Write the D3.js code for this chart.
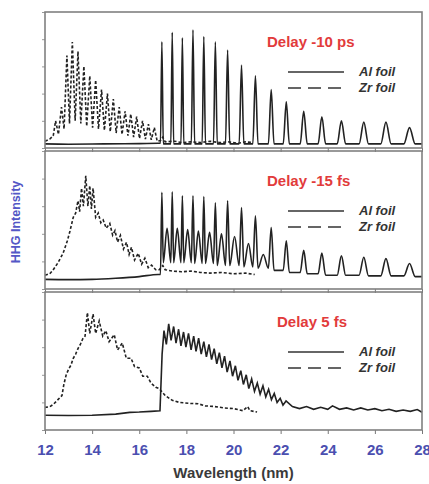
<!DOCTYPE html>
<html>
<head>
<meta charset="utf-8">
<script src="https://cdn.jsdelivr.net/npm/d3@7"></script>
<style>
  body { margin: 0; background: #fff; }
  text { font-family: "Liberation Sans", Arial, sans-serif; font-weight: bold; }
</style>
</head>
<body>
<script>
// ---- datos (longitud de onda en nm, intensidad en u.a. 0-100) ----
const xTicks = [12, 14, 16, 18, 20, 22, 24, 26, 28];
const yTicks = [0, 20, 40, 60, 80, 100];
const delays = ["Delay -10 ps", "Delay -15 fs", "Delay 5 fs"];
const seriesNames = ["Al foil", "Zr foil"];

// armonicos del filtro Al (paneles 1 y 2)
const alPos = [16.96, 17.40, 17.83, 18.28, 18.74, 19.23, 19.75, 20.34, 20.93, 21.6, 22.24, 22.98, 23.75, 24.58, 25.53, 26.47, 27.47];
const alWidth = [0.06, 0.06, 0.06, 0.07, 0.07, 0.08, 0.09, 0.1, 0.11, 0.12, 0.13, 0.15, 0.16, 0.18, 0.2, 0.22, 0.24];
const alTop1 = [78, 85, 81, 87, 82, 78, 72, 61, 53, 43, 34, 27, 23, 20, 19, 19, 15];
const alLow1 = [3, 3, 3, 3, 3, 3, 3, 3, 3, 3, 3, 3, 3, 3, 3, 3, 3];
const alSub1 = [0, 0, 0, 0, 0, 0, 0, 0, 0, 0, 0, 0, 0, 0, 0, 0, 0];
const alPre1 = [[12.0, 3], [13.0, 2.8], [14.5, 3], [16.0, 3.2], [16.8, 3.5]];
const alTop2 = [70, 70.5, 67.5, 67.5, 67, 62.5, 64, 59, 53, 44.5, 35, 28, 26, 24, 23, 22, 18.5];
const alLow2 = [19, 19, 19, 18.5, 18.5, 17, 17, 16, 15, 13.5, 12, 11, 10, 10, 9.5, 9.5, 9];
const alSub2 = [44, 44, 43, 42, 41, 40, 38, 33, 25, 0, 0, 0, 0, 0, 0, 0, 0];
const alPre2 = [[12.0, 7], [13.0, 6.8], [14.0, 7], [15.0, 7.8], [16.0, 9], [16.8, 10.5]];

// Al, panel 3 (picos densos)
const al3 = [[12.0, 10.7], [13.0, 10.5], [14.0, 10.7], [15.0, 11.5], [15.6, 12.8], [16.0, 13], [16.5, 13.5], [16.88, 14],
  [16.97, 55], [17.05, 72], [17.15, 62], [17.25, 77], [17.35, 65], [17.46, 75], [17.56, 63], [17.67, 73], [17.77, 61],
  [17.88, 71], [17.98, 60], [18.09, 70], [18.2, 58], [18.31, 68], [18.41, 57], [18.52, 66.5], [18.63, 55], [18.74, 64],
  [18.85, 53], [18.96, 62], [19.07, 51], [19.18, 59], [19.29, 48], [19.40, 56], [19.51, 45], [19.62, 53.5], [19.73, 42],
  [19.85, 50], [19.96, 39], [20.08, 46.5], [20.19, 36], [20.31, 43], [20.42, 33], [20.54, 40], [20.65, 30], [20.77, 37],
  [20.89, 28], [21.01, 34], [21.13, 26], [21.25, 32], [21.37, 24], [21.49, 29.5], [21.61, 22], [21.73, 26.5], [21.85, 20],
  [21.98, 23], [22.1, 18], [22.23, 21], [22.5, 17], [22.8, 15.5], [23.1, 17], [23.4, 15], [23.7, 16.5], [24.0, 15],
  [24.2, 17.5], [24.5, 15], [24.8, 16], [25.1, 14.5], [25.4, 16], [25.7, 14.5], [26.0, 15.5], [26.3, 14], [26.6, 15],
  [26.9, 13.5], [27.2, 14.5], [27.5, 13.5], [27.8, 14.8], [28.0, 12.9]];

// Zr
const zr1 = [[12.0, 5], [12.2, 6.5], [12.35, 9], [12.45, 20], [12.57, 10], [12.70, 30], [12.81, 14], [12.93, 68],
  [13.04, 18], [13.16, 78], [13.28, 20], [13.40, 71], [13.52, 18], [13.65, 60], [13.77, 16], [13.90, 53], [14.02, 15],
  [14.15, 50], [14.27, 14], [14.40, 43], [14.52, 13], [14.65, 40], [14.77, 12], [14.90, 36], [15.02, 11], [15.15, 30],
  [15.27, 10], [15.40, 27], [15.52, 9], [15.64, 25], [15.76, 8], [15.89, 23], [16.01, 7], [16.14, 20], [16.26, 6.5],
  [16.39, 17.5], [16.51, 6], [16.64, 15], [16.76, 5], [16.9, 5.5], [17.0, 8], [17.1, 4.5], [17.5, 5], [17.8, 4],
  [18.2, 4.5], [18.6, 4], [19.0, 5], [19.4, 4], [19.8, 4.5], [20.2, 3.5], [20.5, 4.5], [20.8, 4]];
const zr2 = [[12.0, 10], [12.2, 11], [12.34, 13.7], [12.55, 19], [12.77, 26], [12.95, 35], [13.06, 42], [13.2, 52],
  [13.3, 55], [13.4, 64], [13.47, 56], [13.55, 73], [13.63, 60], [13.73, 82], [13.82, 60], [13.9, 75], [13.97, 58],
  [14.04, 73], [14.15, 52], [14.26, 55], [14.37, 48], [14.47, 50], [14.6, 44], [14.75, 47.5], [14.87, 39], [14.97, 42.4],
  [15.08, 34], [15.2, 38.8], [15.33, 29], [15.46, 33.8], [15.57, 25], [15.67, 30.2], [15.8, 21], [15.96, 25.9],
  [16.1, 18], [16.24, 22.3], [16.38, 15.5], [16.52, 17.3], [16.7, 14], [16.85, 14], [17.0, 17], [17.1, 14], [17.4, 13],
  [17.8, 12.5], [18.2, 13], [18.6, 12], [19.0, 11.5], [19.5, 12], [20.0, 11], [20.5, 11.5], [20.9, 10.5]];
const zr3 = [[12.0, 16.4], [12.2, 16.8], [12.35, 18.5], [12.55, 22], [12.72, 25], [12.8, 33], [12.9, 40], [13.0, 44],
  [13.1, 47], [13.2, 52], [13.3, 55], [13.4, 59], [13.5, 62], [13.6, 66], [13.7, 68], [13.8, 85], [13.9, 70], [14.04, 84],
  [14.15, 70], [14.3, 79], [14.45, 68], [14.58, 72], [14.72, 64], [14.94, 69], [15.08, 58], [15.28, 63], [15.45, 52],
  [15.65, 52], [15.8, 46], [16.0, 45], [16.15, 39], [16.34, 39], [16.5, 34], [16.7, 31], [16.85, 30], [17.1, 25],
  [17.4, 21.5], [17.7, 20], [18.1, 19.3], [18.5, 19], [18.8, 17.5], [19.2, 17], [19.6, 16], [20.0, 15.5], [20.4, 14],
  [20.6, 17], [20.7, 14], [21.0, 13]];

// construir la curva de Al con picos, valles y sub-picos
function harmonics(pre, tops, lows, subs) {
  const pts = pre.slice();
  let prevLow = pre[pre.length - 1][1];
  alPos.forEach((p, i) => {
    const w = alWidth[i];
    pts.push([p - w, prevLow], [p, tops[i]], [p + w, lows[i]]);
    if (subs[i] > 0 && i < alPos.length - 1) pts.push([(p + alPos[i + 1]) / 2, subs[i]]);
    prevLow = lows[i];
  });
  pts.push([28, prevLow]);
  return pts;
}

const panels = [
  {label: delays[0], al: harmonics(alPre1, alTop1, alLow1, alSub1), alCurve: d3.curveMonotoneX, zr: zr1},
  {label: delays[1], al: harmonics(alPre2, alTop2, alLow2, alSub2), alCurve: d3.curveMonotoneX, zr: zr2},
  {label: delays[2], al: al3, alCurve: d3.curveLinear, zr: zr3}
];

// ---- dimensiones ----
const W = 429, H = 484;
const left = 45, right = 422;
const tops = [12, 151, 292], bottoms = [148, 289, 430];

const svg = d3.select("body").append("svg")
  .attr("width", W).attr("height", H);

const x = d3.scaleLinear().domain([12, 28]).range([left, right]);

panels.forEach((p, k) => {
  const y = d3.scaleLinear().domain([0, 100]).range([bottoms[k], tops[k]]);
  const g = svg.append("g");

  // ejes
  const xa = g.append("g")
    .attr("transform", `translate(0,${bottoms[k]})`)
    .call(d3.axisBottom(x).tickValues(xTicks).tickSize(4).tickFormat(k === 2 ? d3.format("d") : ""));
  xa.select(".domain").remove();
  xa.selectAll("line").attr("stroke", "#777");
  xa.selectAll("text")
    .attr("y", 10)
    .attr("dy", "1em")
    .style("font-size", "15px")
    .style("font-weight", "bold")
    .style("fill", "#4b4fb0");

  const ya = g.append("g")
    .attr("transform", `translate(${left},0)`)
    .call(d3.axisLeft(y).tickValues(yTicks).tickSize(3).tickFormat(""));
  ya.select(".domain").remove();
  ya.selectAll("line").attr("stroke", "#999");

  // curvas
  g.append("path")
    .datum(p.zr)
    .attr("fill", "none")
    .attr("stroke", "#222")
    .attr("stroke-width", 1.6)
    .attr("stroke-dasharray", "3,2")
    .attr("d", d3.line().x(d => x(d[0])).y(d => y(d[1])));

  g.append("path")
    .datum(p.al)
    .attr("fill", "none")
    .attr("stroke", "#222")
    .attr("stroke-width", 1.6)
    .attr("d", d3.line().curve(p.alCurve).x(d => x(d[0])).y(d => y(d[1])));

  // marco
  g.append("rect")
    .attr("x", left).attr("y", tops[k])
    .attr("width", right - left).attr("height", bottoms[k] - tops[k])
    .attr("fill", "none")
    .attr("stroke", "#808080")
    .attr("stroke-width", 1.6);

  // titulo del retardo
  g.append("text")
    .attr("x", k === 2 ? 277 : 267)
    .attr("y", tops[k] + 35)
    .style("font-size", "15px")
    .style("fill", "#e23b3b")
    .text(p.label);

  // leyenda
  const lx1 = 288, lx2 = 344;
  [0, 1].forEach(j => {
    const ly = tops[k] + 60 + j * 16;
    g.append("line")
      .attr("x1", lx1).attr("x2", lx2)
      .attr("y1", ly).attr("y2", ly)
      .attr("stroke", "#333")
      .attr("stroke-width", 1.6)
      .attr("stroke-dasharray", j === 1 ? "13,7" : null);
    g.append("text")
      .attr("x", 359)
      .attr("y", ly + 4)
      .style("font-size", "13px")
      .style("font-style", "italic")
      .style("fill", "#333")
      .text(seriesNames[j]);
  });
});

// titulos de ejes
svg.append("text")
  .attr("x", (left + right) / 2)
  .attr("y", 478)
  .attr("text-anchor", "middle")
  .style("font-size", "15px")
  .style("fill", "#3a3a3a")
  .text("Wavelength (nm)");

svg.append("text")
  .attr("transform", `translate(20,222) rotate(-90)`)
  .attr("text-anchor", "middle")
  .style("font-size", "12.5px")
  .style("fill", "#5457c6")
  .text("HHG Intensity");
</script>
</body>
</html>
